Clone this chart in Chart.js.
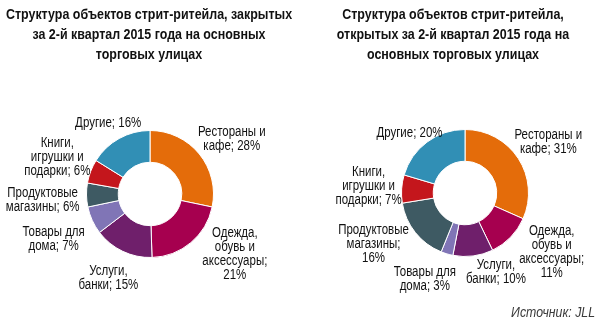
<!DOCTYPE html>
<html>
<head>
<meta charset="utf-8">
<script src="https://cdn.jsdelivr.net/npm/chart.js@4"></script>
<style>
  html, body { margin: 0; padding: 0; background: #fff; }
  .wrap { position: relative; width: 607px; height: 330px; }
  #leftChart { position: absolute; left: 0; top: 0; }
  #rightChart { position: absolute; left: 303px; top: 0; }
</style>
</head>
<body>
<div class="wrap">
  <canvas id="leftChart" width="303" height="330"></canvas>
  <canvas id="rightChart" width="304" height="330"></canvas>
</div>
<script>
/* Data */
const CATEGORIES = [
  "Рестораны и\nкафе",
  "Одежда,\nобувь и\nаксессуары",
  "Услуги,\nбанки",
  "Товары для\nдома",
  "Продуктовые\nмагазины",
  "Книги,\nигрушки и\nподарки",
  "Другие",
];
const CLOSED_SHARE = [28, 21, 15, 7, 6, 6, 16];
const OPENED_SHARE = [31, 11, 10, 3, 16, 7, 20];
const SLICE_COLORS = ["#E46C0A", "#A6004F", "#6F1F6B", "#8075B6", "#3E5A63", "#C4161C", "#318FB5"];

const LEFT_TITLE = ["Структура объектов стрит-ритейла, закрытых", "за 2-й квартал 2015 года на основных", "торговых улицах"];
const RIGHT_TITLE = ["Структура объектов стрит-ритейла,", "открытых за 2-й квартал 2015 года на", "основных торговых улицах"];
const SOURCE_TEXT = "Источник: JLL";

/* Label layout tweaks (px), per slice */
const LEFT_NUDGE = [[0, -1], [18, -16], [2, 7], [-3, 10], [1, 5], [5, -4], [9, -2]];
const RIGHT_NUDGE = [[-5, -4], [12, -10], [18, -6], [-11, 4], [-8, -7], [8, -1], [7, 3]];

// narrow look: Liberation Sans squeezed horizontally (no narrow face installed)
const FONT = "'Liberation Sans', Arial, sans-serif";
const SQUEEZE = 0.82;
const LABEL_FONT = "14px " + FONT;
const LINE_H = 14;
const WRAP_MAX = 74;

function textW(ctx, s, sx = SQUEEZE) {
  return ctx.measureText(s).width * sx;
}

function drawText(ctx, s, x, y, sx = SQUEEZE) {
  ctx.save();
  ctx.translate(x, y);
  ctx.scale(sx, 1);
  ctx.fillText(s, 0, 0);
  ctx.restore();
}

/**
 * Build label lines: category name, then "; NN%" on the last line
 * (moved to its own line if it would get too wide).
 */
function labelLines(ctx, name, value) {
  const lines = name.split("\n");
  const last = lines[lines.length - 1] + "; " + value + "%";
  if (textW(ctx, last) > WRAP_MAX) {
    lines[lines.length - 1] += ";";
    lines.push(value + "%");
  } else {
    lines[lines.length - 1] = last;
  }
  return lines;
}

/**
 * Plugin: title lines, outside slice labels, optional source note.
 */
const pieText = {
  id: "pieText",
  afterDatasetsDraw(chart, args, opts) {
    const ctx = chart.ctx;
    ctx.save();

    // title
    ctx.fillStyle = "#111";
    ctx.font = "bold 15px " + FONT;
    ctx.textAlign = "center";
    ctx.textBaseline = "middle";
    opts.title.forEach((t, i) => drawText(ctx, t, opts.titleX, 15 + i * 20, 0.83));

    // slice labels
    ctx.font = LABEL_FONT;
    const ds = chart.data.datasets[0];
    chart.getDatasetMeta(0).data.forEach((arc, i) => {
      const { x, y, startAngle, endAngle, outerRadius } = arc.getProps(
        ["x", "y", "startAngle", "endAngle", "outerRadius"], true);
      const mid = (startAngle + endAngle) / 2;
      const dx = Math.cos(mid), dy = Math.sin(mid);
      const lines = labelLines(ctx, chart.data.labels[i], ds.data[i]);
      const w = Math.max(...lines.map((l) => textW(ctx, l)));
      const h = lines.length * LINE_H;
      const nudge = opts.nudge[i] || [0, 0];
      const cx = x + dx * (outerRadius + 8) + dx * w / 2 + nudge[0];
      const cy = y + dy * (outerRadius + 8) + dy * h / 2 + nudge[1];
      ctx.fillStyle = "#111";
      lines.forEach((l, k) => drawText(ctx, l, cx, cy - h / 2 + LINE_H / 2 + k * LINE_H));
    });

    // source
    if (opts.source) {
      ctx.font = "italic 14px " + FONT;
      ctx.fillStyle = "#3a3a3a";
      ctx.textAlign = "right";
      drawText(ctx, opts.source, chart.width - 12, 313, 0.88);
    }
    ctx.restore();
  },
};

function makeDonut(id, values, title, nudge, padding, titleX, source) {
  const ctx = document.getElementById(id);
  return new Chart(ctx, {
    type: "doughnut",
    data: {
      labels: CATEGORIES,
      datasets: [{
        data: values,
        backgroundColor: SLICE_COLORS,
        borderColor: "#ffffff",
        borderWidth: 1,
        hoverOffset: 0,
      }],
    },
    options: {
      responsive: false,
      animation: false,
      cutout: "50%",
      layout: { padding },
      plugins: {
        legend: { display: false },
        tooltip: { enabled: false },
        title: { display: false },
        pieText: { title, nudge, titleX, source },
      },
    },
    plugins: [pieText],
  });
}

makeDonut("leftChart", CLOSED_SHARE, LEFT_TITLE, LEFT_NUDGE,
  { left: 86, right: 89, top: 130, bottom: 72 }, 149, null);
makeDonut("rightChart", OPENED_SHARE, RIGHT_TITLE, RIGHT_NUDGE,
  { left: 98, right: 78, top: 129, bottom: 73 }, 150, SOURCE_TEXT);
</script>
</body>
</html>
